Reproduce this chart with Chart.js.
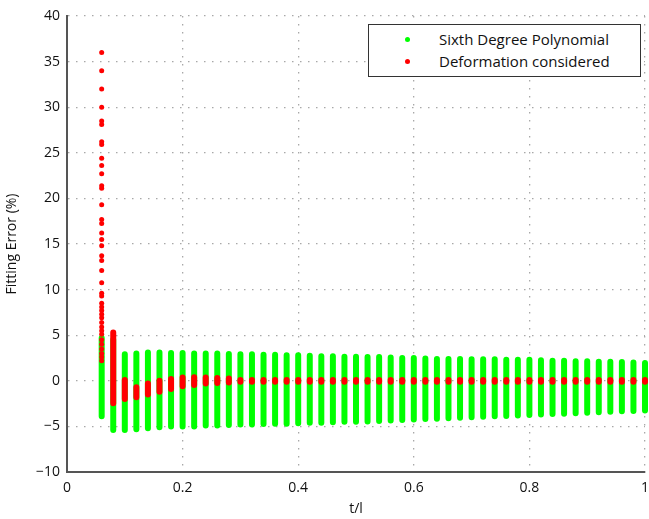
<!DOCTYPE html>
<html>
<head>
<meta charset="utf-8">
<script src="https://cdn.jsdelivr.net/npm/chart.js@4/dist/chart.umd.min.js"></script>
<style>
  body { margin: 0; background: #fff; }
  #wrap { position: relative; width: 649px; height: 519px; }
  #legend {
    position: absolute; left: 368px; top: 24px; width: 271px; height: 51px;
    border: 1px solid #333; background: #fff;
    font-family: "Open Sans", sans-serif; font-size: 15px; color: #111;
  }
  .row { position: absolute; left: 0; height: 20px; line-height: 20px; white-space: nowrap; }
  .dot { position: absolute; left: 36px; top: 8px; width: 5px; height: 5px; border-radius: 50%; }
  .lbl { position: absolute; left: 70px; top: 0; }
</style>
</head>
<body>
<div id="wrap">
  <canvas id="grafico" width="649" height="519"></canvas>
  <div id="legend"></div>
</div>
<script>
// posiciones t/l de cada columna
const tl = [0.06, 0.08, 0.10, 0.12, 0.14, 0.16, 0.18, 0.20, 0.22, 0.24, 0.26, 0.28,
  0.30, 0.32, 0.34, 0.36, 0.38, 0.40, 0.42, 0.44, 0.46, 0.48, 0.50, 0.52, 0.54, 0.56,
  0.58, 0.60, 0.62, 0.64, 0.66, 0.68, 0.70, 0.72, 0.74, 0.76, 0.78, 0.80, 0.82, 0.84,
  0.86, 0.88, 0.90, 0.92, 0.94, 0.96, 0.98, 1.00];

// Sixth Degree Polynomial: rango de error en cada columna
const verdeMax = [4.7, 4.5, 2.9, 3.0, 3.1, 3.1, 3.05, 3.05, 3.0, 3.0, 3.0, 2.95,
  2.9, 2.9, 2.85, 2.85, 2.8, 2.8, 2.75, 2.7, 2.7, 2.65, 2.65, 2.6, 2.6, 2.55,
  2.5, 2.5, 2.45, 2.4, 2.4, 2.4, 2.35, 2.35, 2.35, 2.3, 2.3, 2.3, 2.25, 2.2,
  2.2, 2.15, 2.15, 2.1, 2.1, 2.05, 2.0, 1.95];
const verdeMin = [-3.9, -5.4, -5.4, -5.3, -5.2, -5.1, -5.0, -5.0, -5.0, -4.9, -4.9, -4.85,
  -4.8, -4.8, -4.75, -4.7, -4.7, -4.65, -4.6, -4.6, -4.55, -4.5, -4.5, -4.45, -4.4, -4.35,
  -4.3, -4.25, -4.2, -4.15, -4.1, -4.05, -4.0, -3.95, -3.9, -3.85, -3.8, -3.75, -3.7, -3.65,
  -3.6, -3.55, -3.5, -3.45, -3.4, -3.35, -3.3, -3.25];

// Deformation considered: rango desde t/l = 0.08
const rojoTl = tl.slice(1);
const rojoMax = [5.3, 0.1, -0.7, -0.3, 0.0, 0.2, 0.35, 0.4, 0.35, 0.3, 0.25,
  0.1, 0.1, 0.1, 0.1, 0.1, 0.1, 0.1, 0.1, 0.1, 0.1, 0.1, 0.1, 0.1, 0.1,
  0.1, 0.1, 0.1, 0.1, 0.1, 0.1, 0.1, 0.1, 0.1, 0.1, 0.1, 0.1, 0.1, 0.1,
  0.1, 0.1, 0.1, 0.1, 0.1, 0.1, 0.1, 0.1];
const rojoMin = [-2.45, -2.0, -1.8, -1.5, -1.2, -0.9, -0.6, -0.45, -0.3, -0.25, -0.2,
  -0.1, -0.1, -0.1, -0.1, -0.1, -0.1, -0.1, -0.1, -0.1, -0.1, -0.1, -0.1, -0.1, -0.1,
  -0.1, -0.1, -0.1, -0.1, -0.1, -0.1, -0.1, -0.1, -0.1, -0.1, -0.1, -0.1, -0.1, -0.1,
  -0.1, -0.1, -0.1, -0.1, -0.1, -0.1, -0.1, -0.1];

// puntos sueltos en t/l = 0.06
const rojoPrimeros = [2.2, 2.6, 3.0, 3.5, 4.0, 4.5, 5.1, 5.5, 5.9, 6.4, 6.9, 7.3, 7.7, 8.1,
  8.5, 9.3, 9.6, 10.75, 12.1, 13.2, 13.7, 14.8, 15.5, 16.2, 17.25, 17.7, 19.3, 21.1, 21.4,
  22.7, 23.6, 24.4, 25.9, 26.2, 28.1, 28.5, 30.0, 32.0, 34.0, 36.0];

const xTicks = [0, 0.2, 0.4, 0.6, 0.8, 1];
const yTicks = [-10, -5, 0, 5, 10, 15, 20, 25, 30, 35, 40];

const VERDE = '#00ff00';
const ROJO = '#ff0000';

function columnas(xs, mins, maxs) {
  const pts = [];
  xs.forEach((x, i) => {
    pts.push({ x: x, y: mins[i] }, { x: x, y: maxs[i] }, { x: x, y: null });
  });
  return pts;
}

const fuente = { family: '"Open Sans", sans-serif', size: 14 };

new Chart(document.getElementById('grafico'), {
  type: 'scatter',
  data: {
    datasets: [{
      label: 'Deformation considered',
      data: rojoPrimeros.map(v => ({ x: tl[0], y: v })),
      pointRadius: 2.5,
      pointBackgroundColor: ROJO,
      pointBorderWidth: 0,
      clip: 8
    }, {
      label: 'Deformation considered',
      data: columnas(rojoTl, rojoMin, rojoMax),
      showLine: true,
      spanGaps: false,
      borderColor: ROJO,
      borderWidth: 6,
      borderCapStyle: 'round',
      pointRadius: 0,
      clip: 8
    }, {
      label: 'Sixth Degree Polynomial',
      data: columnas(tl, verdeMin, verdeMax),
      showLine: true,
      spanGaps: false,
      borderColor: VERDE,
      borderWidth: 6,
      borderCapStyle: 'round',
      pointRadius: 0,
      clip: 8
    }]
  },
  options: {
    responsive: false,
    animation: false,
    layout: { padding: { top: 16, right: 1, left: 0, bottom: 0 } },
    plugins: { legend: { display: false }, tooltip: { enabled: false } },
    scales: {
      x: {
        type: 'linear', min: 0, max: 1,
        afterBuildTicks: s => { s.ticks = xTicks.map(v => ({ value: v })); },
        afterFit: s => { s.height = 47; s.paddingLeft = 0; s.paddingRight = 0; },
        ticks: {
          font: fuente, color: '#111', padding: 8, maxRotation: 0,
          callback: v => String(+v.toFixed(1))
        },
        grid: { color: '#a8a8a8', drawTicks: false, lineWidth: 1.3 },
        border: { display: true, color: '#555', width: 2, dash: [1.5, 6.5] },
        title: { display: true, text: 't/l', font: fuente, color: '#111', padding: { top: 0, bottom: 2 } }
      },
      y: {
        min: -10, max: 40,
        afterBuildTicks: s => { s.ticks = yTicks.map(v => ({ value: v })); },
        afterFit: s => { s.width = 67; },
        ticks: {
          font: fuente, color: '#111', padding: 7,
          callback: v => v < 0 ? '\u2212' + Math.abs(v) : String(v)
        },
        grid: { color: '#a8a8a8', drawTicks: false, lineWidth: 1.3 },
        border: { display: true, color: '#555', width: 2, dash: [1.5, 6.5] },
        title: { display: true, text: 'Fitting Error (%)', font: fuente, color: '#111', padding: { top: 4, bottom: 0 } }
      }
    }
  }
});

// leyenda con recuadro, como en la figura original
const entradas = [['Sixth Degree Polynomial', VERDE], ['Deformation considered', ROJO]];
const leyenda = document.getElementById('legend');
entradas.forEach(([texto, color], i) => {
  const fila = document.createElement('div');
  fila.className = 'row';
  fila.style.top = (4 + i * 22) + 'px';
  fila.innerHTML = '<span class="dot" style="background:' + color + '"></span><span class="lbl">' + texto + '</span>';
  leyenda.appendChild(fila);
});
</script>
</body>
</html>
